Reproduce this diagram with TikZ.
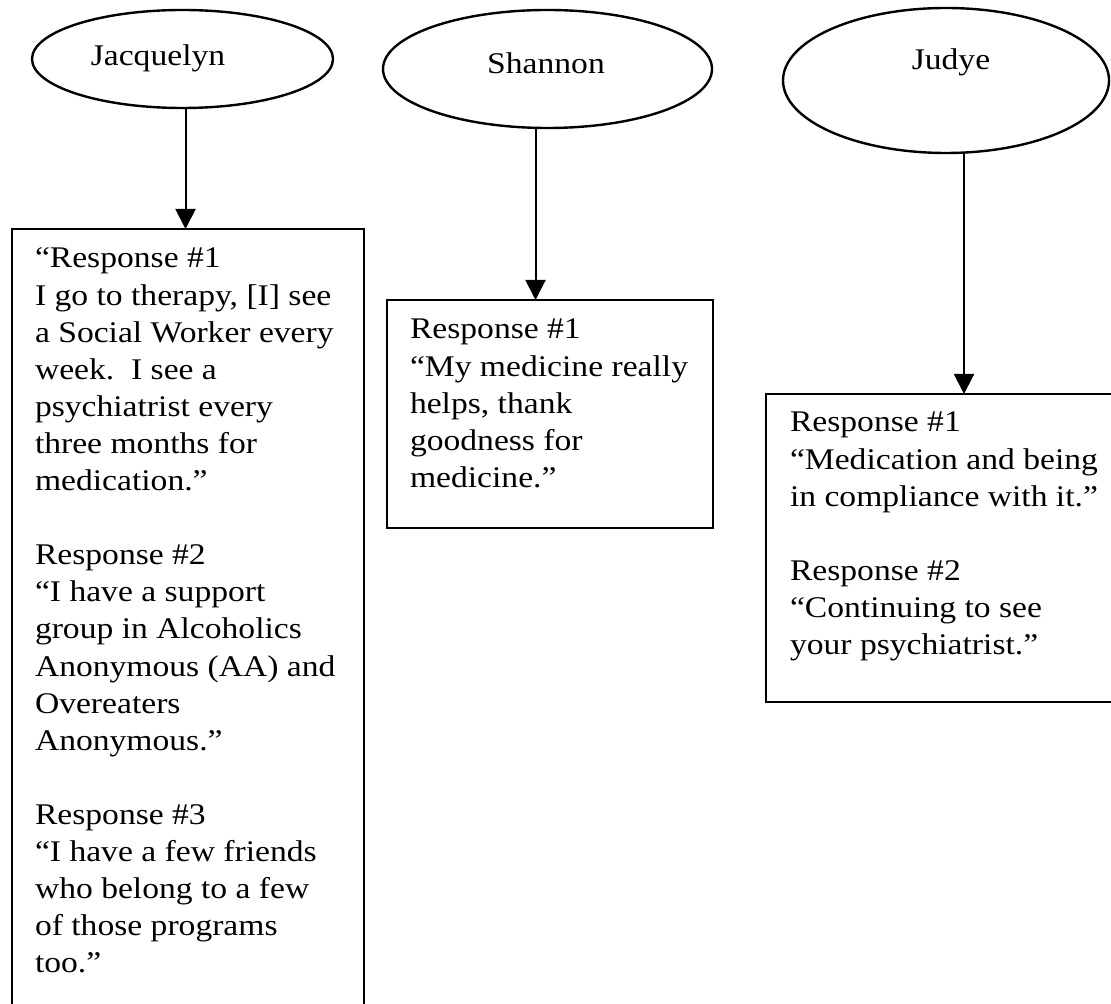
\documentclass[tikz,border=0pt]{standalone}
\usepackage{fontspec}
\setmainfont{Liberation Serif}[FakeStretch=1.12]
\usetikzlibrary{shapes.geometric,arrows.meta}
\begin{document}
\begin{tikzpicture}[x=0.5pt,y=-0.5pt,
  every node/.style={inner sep=0pt, outer sep=0pt},
  oval/.style={ellipse, draw, line width=1.2pt},
  lbl/.style={anchor=base, font=\fontsize{15pt}{18pt}\selectfont},
  panel/.style={rectangle, draw, line width=1pt, anchor=north west},
  body/.style={anchor=north west, align=left, font=\fontsize{15pt}{18.55pt}\selectfont},
  arr/.style={line width=1pt, -{Triangle[length=10pt,width=10pt]}}]
\useasboundingbox (0,0) rectangle (1111,1004);
\clip (0,0) rectangle (1111,1004);
\fill[white] (0,0) rectangle (1111,1004);

% person ovals
\node[oval, minimum width=150.5pt, minimum height=49pt] (e1) at (182.5,59) {};
\node[oval, minimum width=164.5pt, minimum height=59pt] (e2) at (547.5,69) {};
\node[oval, minimum width=163pt, minimum height=72.5pt] (e3) at (946,80.5) {};

\node[lbl] (t1) at (158,66) {Jacquelyn};
\node[lbl] (t2) at (546,74) {Shannon};
\node[lbl] (t3) at (951,70) {Judye};

% response boxes
\node[panel, minimum width=176pt, minimum height=420pt] (b1) at (12,229) {};
\node[panel, minimum width=163pt, minimum height=114pt] (b2) at (387,300) {};
\node[panel, minimum width=200pt, minimum height=154pt] (b3) at (766,394) {};

\node[body] (x1) at ([shift={(11.5pt,-6.5pt)}]b1.north west) {\strut“Response \#1\\
I go to therapy, [I] see\\
a Social Worker every\\
week.\ \ I see a\\
psychiatrist every\\
three months for\\
medication.”\\[18.55pt]
Response \#2\\
“I have a support\\
group in Alcoholics\\
Anonymous (AA) and\\
Overeaters\\
Anonymous.”\\[18.55pt]
Response \#3\\
“I have a few friends\\
who belong to a few\\
of those programs\\
too.”};

\node[body] (x2) at ([shift={(11.5pt,-6.5pt)}]b2.north west) {\strut Response \#1\\
“My medicine really\\
helps, thank\\
goodness for\\
medicine.”};

\node[body] (x3) at ([shift={(12pt,-6pt)}]b3.north west) {\strut Response \#1\\
“Medication and being\\
in compliance with it.”\\[18.55pt]
Response \#2\\
“Continuing to see\\
your psychiatrist.”};

% connectors
\draw[arr] ([xshift=1.5pt]e1.south) -- ([xshift=1.5pt]e1.south |- b1.north);
\draw[arr] ([xshift=-6pt]e2.south) -- ([xshift=-6pt]e2.south |- b2.north);
\draw[arr] ([xshift=9pt]e3.south) -- ([xshift=9pt]e3.south |- b3.north);
\end{tikzpicture}
\end{document}
